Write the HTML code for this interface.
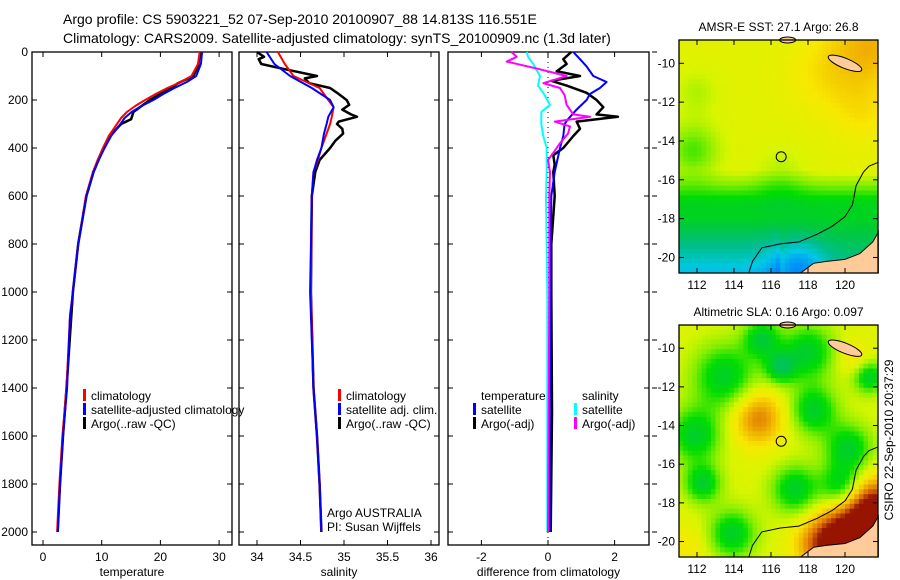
<!DOCTYPE html>
<html><head><meta charset="utf-8">
<style>
body{margin:0;background:#fff;}
svg{display:block;font-family:"Liberation Sans",sans-serif;}
</style></head>
<body>
<svg id="fig" width="900" height="580" viewBox="0 0 900 580" xmlns="http://www.w3.org/2000/svg">
<rect width="900" height="580" fill="#fff"/>
<text x="63" y="24" font-size="14">Argo profile: CS 5903221_52 07-Sep-2010 20100907_88 14.813S 116.551E</text>
<text x="63" y="43" font-size="14">Climatology: CARS2009. Satellite-adjusted climatology: synTS_20100909.nc (1.3d later)</text>
<g id="g1"></g>
<g id="g2"></g>
<g id="g3"></g>
<g id="m1"></g>
<g id="m2"></g>
<text x="0" y="0" font-size="12" text-anchor="middle" transform="translate(893,440) rotate(-90)">CSIRO 22-Sep-2010 20:37:29</text>
</svg>
<script>
// ---- data ----
const depthTicks = [0,200,400,600,800,1000,1200,1400,1600,1800,2000];
const tempTicks = [0,10,20,30];
const salTicks = [34,34.5,35,35.5,36];
const diffTicks = [-2,0,2];
const tClimD = [0,50,100,125,150,175,200,225,250,275,300,350,400,450,500,600,800,1000,1100,1400,1600,1800,2000];
const tClim  = [26.7,26.4,25.3,23.5,21.2,19.2,17.4,15.7,14.3,13.3,12.6,11.2,10.2,9.3,8.5,7.3,6.0,5.1,4.6,4.0,3.3,2.8,2.4];
const tSat   = [27.1,26.9,26.1,24.5,22.4,20.5,18.8,16.8,15.1,13.9,13.2,11.6,10.5,9.5,8.6,7.4,6.0,5.1,4.6,4.1,3.4,2.9,2.5];
const tArgoD = [0,30,60,100,130,150,180,200,250,280,300,350,400,500,600,800,1000,1400,1600,1800,2000];
const tArgo  = [26.9,26.6,26.4,25.6,23.0,21.8,19.6,18.2,15.4,15.0,13.3,11.4,10.3,8.6,7.4,6.0,5.1,4.0,3.4,2.9,2.5];
const sClimD = [0,50,100,150,200,230,270,300,340,400,450,500,600,1000,1400,1600,1800,2000];
const sClim  = [34.24,34.32,34.42,34.72,34.82,34.88,34.86,34.84,34.8,34.74,34.7,34.65,34.63,34.62,34.65,34.69,34.72,34.74];
const sSat   = [34.11,34.2,34.38,34.63,34.84,34.88,34.82,34.8,34.77,34.74,34.69,34.65,34.63,34.61,34.65,34.69,34.72,34.74];
const sArgoD = [0,20,30,50,70,100,110,130,150,170,200,220,240,260,270,290,300,320,340,370,400,450,500,600,1000,1400,1600,1800,2000];
const sArgo  = [34.0,34.08,34.02,34.05,34.3,34.69,34.55,34.6,34.84,34.92,35.03,35.06,34.98,35.08,35.15,34.94,34.92,34.98,34.99,34.9,34.84,34.72,34.67,34.63,34.62,34.65,34.69,34.72,34.74];
const dD     = [0,30,60,100,125,150,175,200,240,280,300,350,400,500,600,800,1000,1500,2000];
const dTSat  = [0.76,0.96,1.16,1.36,1.76,1.56,1.26,1.16,0.86,0.6,0.5,0.46,0.36,0.2,0.1,0.08,0.06,0.05,0.05];
const dArgoD = [0,30,50,80,100,120,140,170,200,230,260,270,290,320,350,400,430,470,500,600,800,1000,1500,2000];
const dTArgo = [0.7,0.46,0.56,0.26,0.96,0.1,0.56,1.16,1.46,1.66,1.46,2.1,0.86,0.96,0.76,0.46,0.16,0.2,0.16,0.2,0.1,0.1,0.12,0.08];
const dSSatD = [0,20,50,100,140,170,220,250,300,350,400,500,600,1000,2000];
const dSSat  = [-0.64,-0.6,-0.44,-0.24,-0.3,-0.14,0.06,-0.2,-0.2,-0.14,-0.04,-0.04,-0.06,-0.02,-0.02];
const dSArgoD= [0,20,40,70,100,130,150,180,220,260,270,290,310,340,380,420,450,500,600,1000,2000];
const dSArgo = [-1.1,-0.94,-1.24,-0.3,0.56,-0.14,0.36,0.5,0.56,0.76,1.26,0.2,0.66,0.6,0.36,0.16,0.0,0.06,0.04,0.04,0.0];
const latTicks = [-10,-12,-14,-16,-18,-20];
const lonTicks = [112,114,116,118,120];

const NS="http://www.w3.org/2000/svg";
function mk(parent,tag,attrs,txt){const e=document.createElementNS(NS,tag);for(const k in attrs)e.setAttribute(k,attrs[k]);if(txt!==undefined)e.textContent=txt;parent.appendChild(e);return e;}
const yD = d => 52 + 0.24*d;
const PTOP=52, PBOT=545;

function panel(g, L, R, xf, xticks, xlabel, showY){
  mk(g,'rect',{x:L,y:PTOP,width:R-L,height:PBOT-PTOP,fill:'none',stroke:'#000','stroke-width':1.3});
  depthTicks.forEach(d=>{
    const y=yD(d);
    const t1=mk(g,'line',{x1:L,x2:L+5,y1:y,y2:y,stroke:'#000'});
    
    
    mk(g,'line',{x1:R,x2:R-5,y1:y,y2:y,stroke:'#000'});
    if(showY){
      const tl=mk(g,'text',{x:L-4,y:y+4,'font-size':12,'text-anchor':'end'},String(d));
      
      
    }
  });
  xticks.forEach(v=>{
    const x=xf(v);
    mk(g,'line',{x1:x,x2:x,y1:PBOT,y2:PBOT-5,stroke:'#000'});
    mk(g,'line',{x1:x,x2:x,y1:PTOP,y2:PTOP+5,stroke:'#000'});
    const tl=mk(g,'text',{x:x,y:PBOT+16,'font-size':12,'text-anchor':'middle'},String(v));
    
    
  });
  const xl=mk(g,'text',{x:(L+R)/2,y:576,'font-size':12,'text-anchor':'middle'},xlabel);
  
  
}
function line(g, xf, depths, vals, color, w, name){
  const pts=depths.map((d,i)=>xf(vals[i]).toFixed(1)+','+yD(d).toFixed(1)).join(' ');
  const p=mk(g,'polyline',{points:pts,fill:'none',stroke:color,'stroke-width':w,'stroke-linejoin':'round'});
  
  
}
function legend(g,x,y,color,label){
  mk(g,'rect',{x:x,y:y-9,width:3,height:12,fill:color});
  const t=mk(g,'text',{x:x+8,y:y+2,'font-size':12},label);
  
  
}
// panel 1
const g1=document.getElementById('g1');
const xT = v => 43 + 5.87*v;
panel(g1,32,232,xT,tempTicks,'temperature',true);
line(g1,xT,tArgoD,tArgo,'#000',2.5,'argo-temperature-line');
line(g1,xT,tClimD,tClim,'#f00',2,'climatology-temperature-line');
line(g1,xT,tClimD,tSat,'#00f',2,'satellite-temperature-line');
legend(g1,83,398,'#f00','climatology');
legend(g1,83,412,'#00f','satellite-adjusted climatology');
legend(g1,83,426,'#000','Argo(..raw -QC)');
// panel 2
const g2=document.getElementById('g2');
const xS = v => 257 + 87*(v-34);
panel(g2,239,439,xS,salTicks,'salinity',false);
line(g2,xS,sArgoD,sArgo,'#000',2.5,'argo-salinity-line');
line(g2,xS,sClimD,sClim,'#f00',2,'climatology-salinity-line');
line(g2,xS,sClimD,sSat,'#00f',2,'satellite-salinity-line');
legend(g2,338,398,'#f00','climatology');
legend(g2,338,412,'#00f','satellite adj. clim.');
legend(g2,338,426,'#000','Argo(..raw -QC)');
mk(g2,'text',{x:327,y:517,'font-size':12,},'Argo AUSTRALIA');
mk(g2,'text',{x:327,y:531,'font-size':12,},'PI: Susan Wijffels');
// panel 3
const g3=document.getElementById('g3');
const xDf = v => 548 + 33.3*v;
panel(g3,448,649,xDf,diffTicks,'difference from climatology',false);
depthTicks.forEach(d=>{mk(g3,'line',{x1:652,x2:657,y1:yD(d),y2:yD(d),stroke:'#000'});});
mk(g3,'line',{x1:548,x2:548,y1:PTOP,y2:PBOT,stroke:'#000','stroke-dasharray':'1,4',});
line(g3,xDf,dArgoD,dTArgo,'#000',2.5,'argo-temperature-difference-line');
line(g3,xDf,dD,dTSat,'#00f',2,'satellite-temperature-difference-line');
line(g3,xDf,dSSatD,dSSat,'#0ff',2,'satellite-salinity-difference-line');
line(g3,xDf,dSArgoD,dSArgo,'#f0f',2,'argo-salinity-difference-line');
mk(g3,'text',{x:481,y:400,'font-size':12,},'temperature');
legend(g3,473,412,'#00f','satellite');
legend(g3,473,426,'#000','Argo(-adj)');
mk(g3,'text',{x:582,y:400,'font-size':12,},'salinity');
legend(g3,574,412,'#0ff','satellite');
legend(g3,574,426,'#f0f','Argo(-adj)');

// ---- maps ----
const cstops=[[0,[0,48,192]],[0.15,[0,128,255]],[0.28,[0,200,230]],[0.38,[0,190,140]],[0.47,[0,200,64]],[0.55,[0,221,0]],[0.62,[128,238,0]],[0.69,[216,245,0]],[0.76,[248,232,0]],[0.84,[240,176,0]],[0.92,[220,110,0]],[1,[150,20,0]]];
function cmap(v){v=Math.max(0,Math.min(1,v));for(let i=1;i<cstops.length;i++){if(v<=cstops[i][0]){const a=cstops[i-1],b=cstops[i];const t=(v-a[0])/(b[0]-a[0]);const c=a[1].map((x,j)=>Math.round(x+(b[1][j]-x)*t));return 'rgb('+c+')';}}return 'rgb(150,20,0)';}
const gau=(lo,la,x,y,s)=>Math.exp(-((lo-x)**2+(la-y)**2)/(2*s*s));
function sst(lo,la){
  let v = la>-15.5?0.71:0.71-Math.min(1,(-15.5-la)/1.8)*0.2;
  v -= Math.max(0,(-18-la))*0.09*(lo<116.5?1:0.6);
  v -= 0.2*gau(lo,la,117.5,-20.5,1.0);
  v += 0.12*gau(lo,la,121.5,-9,1.5)+0.06*gau(lo,la,119,-10.5,1.5)+0.05*gau(lo,la,121,-12.5,1.2);
  v -= 0.12*gau(lo,la,111.8,-14.5,1.0)+0.05*gau(lo,la,112,-11.5,0.8)+0.05*gau(lo,la,116.5,-15.8,1.0);
  return v;
}
function sla(lo,la){
  let v=0.7;
  [[113.5,-11.5,1.2],[118,-10.2,1.0],[118.3,-13.2,0.9],[120.2,-15.2,0.9],[117.3,-17.3,0.9],[119.8,-17.2,0.8],[113.9,-19.6,0.9],[111.9,-14.5,1.0],[115.5,-9.5,0.7],[112.3,-17,0.7],[116.5,-11,0.6],[121.3,-11.5,0.6]].forEach(b=>v-=0.2*gau(lo,la,b[0],b[1],b[2]));
  v+=0.2*gau(lo,la,115.3,-13.6,1.0);
  v+=0.35*gau(lo,la,121.5,-18.3,1.1)+0.3*gau(lo,la,119.8,-19.7,1.1)+0.15*gau(lo,la,118.5,-20.3,0.9);
  v+=0.08*gau(lo,la,120.5,-10.5,0.6)+0.06*gau(lo,la,111.5,-20.3,0.8);
  return v;
}
function drawMap(id,top,bot,fn,title){
  const g=document.getElementById(id);
  const L=679,R=878;
  const X=lo=>697+(lo-112)*18.5;
  const ky=(bot-top)/12.0;
  const Y=la=>top+(-8.8-la)*ky;
  const t=mk(g,'text',{x:(L+R)/2,y:top-9,'font-size':12,'text-anchor':'middle'},title);
  
  
  const step=0.25;
  for(let i=0;i<44;i++){for(let j=0;j<49;j++){
    const lo=111+i*step, la=-8.8-j*step;
    const x0=Math.max(L,X(lo)),x1=Math.min(R,X(lo+step)),y0=Y(la),y1=Math.min(bot,Y(la-step));
    if(x1<=x0||y1<=y0)continue;
    mk(g,'rect',{x:x0.toFixed(1),y:y0.toFixed(1),width:(x1-x0+0.5).toFixed(1),height:(y1-y0+0.5).toFixed(1),fill:cmap(fn(lo+step/2,la-step/2))});
  }}
  const P=a=>a.map(p=>X(p[0]).toFixed(1)+','+Y(p[1]).toFixed(1)).join(' ');
  mk(g,'polygon',{points:P([[117.6,-20.8],[118.3,-20.3],[119,-20.2],[120,-20.1],[120.8,-19.8],[121.5,-19.2],[121.8,-18.7],[121.8,-20.8]]),fill:'#ffcc99',stroke:'#000','stroke-width':1,});
  mk(g,'ellipse',{cx:X(120),cy:Y(-10),rx:18,ry:5,fill:'#ffcc99',stroke:'#000',transform:'rotate(22 '+X(120)+' '+Y(-10)+')',});
  mk(g,'ellipse',{cx:X(116.9),cy:Y(-8.8),rx:8,ry:3,fill:'#ffcc99',stroke:'#000',});
  mk(g,'polyline',{points:P([[114.8,-20.8],[115,-20.2],[115.5,-19.5],[116.5,-19.3],[117.5,-19.2],[118.5,-18.8],[119.3,-18.4],[120,-17.9],[120.4,-17.3],[120.6,-16.3],[121,-15.6],[121.3,-15.3],[121.8,-15.1]]),fill:'none',stroke:'#000','stroke-width':1,});
  const fl=mk(g,'circle',{cx:X(116.551),cy:Y(-14.813),r:5,fill:'none',stroke:'#000','stroke-width':1});
  
  
  mk(g,'rect',{x:L,y:top,width:R-L,height:bot-top,fill:'none',stroke:'#000','stroke-width':1.3});
  latTicks.forEach(la=>{const y=Y(la);
    mk(g,'line',{x1:R,x2:R-5,y1:y,y2:y,stroke:'#000'});mk(g,'line',{x1:L,x2:L+5,y1:y,y2:y,stroke:'#000'});
    const tl=mk(g,'text',{x:L-4,y:y+4,'font-size':12,'text-anchor':'end'},String(la));
    
    });
  lonTicks.forEach(lo=>{const x=X(lo);
    mk(g,'line',{x1:x,x2:x,y1:bot,y2:bot-5,stroke:'#000'});mk(g,'line',{x1:x,x2:x,y1:top,y2:top+5,stroke:'#000'});
    const tl=mk(g,'text',{x:x,y:bot+16,'font-size':12,'text-anchor':'middle'},String(lo));
    
    });
}
drawMap('m1',40,273,sst,'AMSR-E SST: 27.1 Argo: 26.8');
drawMap('m2',325,557,sla,'Altimetric SLA: 0.16 Argo: 0.097');
</script>
</body></html>
